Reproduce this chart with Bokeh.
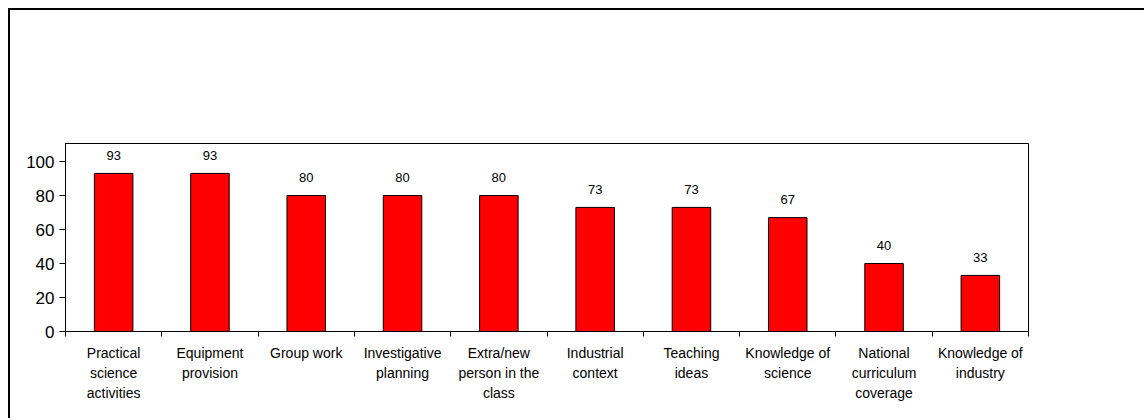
from bokeh.plotting import figure
from bokeh.models import ColumnDataSource, FixedTicker, Range1d
from bokeh.core.properties import value
from bokeh.embed import file_html
from bokeh.resources import INLINE

categories = [
    "Practical\nscience\nactivities",
    "Equipment\nprovision",
    "Group work",
    "Investigative\nplanning",
    "Extra/new\nperson in the\nclass",
    "Industrial\ncontext",
    "Teaching\nideas",
    "Knowledge of\nscience",
    "National\ncurriculum\ncoverage",
    "Knowledge of\nindustry",
]
values = [93, 93, 80, 80, 80, 73, 73, 67, 40, 33]
y_ticks = [0, 20, 40, 60, 80, 100]

n = len(categories)
centers = [i + 0.5 for i in range(n)]
bounds = list(range(n + 1))

src = ColumnDataSource(dict(x=centers, top=values, label=[str(v) for v in values]))

p = figure(width=1136, height=410, output_backend="svg", toolbar_location=None,
           x_range=Range1d(0, n), y_range=Range1d(0, 110.6),
           min_border_left=55, min_border_right=118, min_border_top=133,
           min_border_bottom=89)
p.styles = {"border-top": "2px solid #000", "border-left": "2px solid #000",
            "margin-left": "8px", "margin-top": "8px"}

p.vbar(x="x", top="top", width=0.4, source=src, fill_color="#FF0000",
       line_color="#000000", line_width=1)
p.text(x="x", y="top", text="label", source=src, text_align="center",
       text_baseline="alphabetic", y_offset=-18, text_font_size="13px",
       text_font=value("Liberation Sans"), text_color="#000000")

p.xgrid.visible = False
p.ygrid.visible = False
p.outline_line_color = "#000000"
p.outline_line_width = 1
p.background_fill_color = "white"
p.border_fill_color = "white"

xa = p.xaxis[0]
xa.ticker = FixedTicker(ticks=centers, minor_ticks=bounds)
xa.major_label_overrides = {c: lab for c, lab in zip(centers, categories)}
xa.major_tick_out = 0
xa.major_tick_in = 0
xa.minor_tick_out = 5
xa.minor_tick_in = 0
xa.minor_tick_line_color = "#000000"
xa.axis_line_color = "#000000"
xa.major_label_standoff = 8
xa.major_label_text_font = "Liberation Sans"
xa.major_label_text_font_size = "14px"
xa.major_label_text_line_height = 1.26
xa.major_label_text_color = "#000000"

ya = p.yaxis[0]
ya.ticker = FixedTicker(ticks=y_ticks, minor_ticks=[])
ya.major_tick_out = 6
ya.major_tick_in = 0
ya.major_tick_line_color = "#000000"
ya.axis_line_color = "#000000"
ya.major_label_standoff = 5
ya.major_label_text_font = "Liberation Sans"
ya.major_label_text_font_size = "17px"
ya.major_label_text_color = "#000000"

open("out.html", "w").write(file_html(p, INLINE))
